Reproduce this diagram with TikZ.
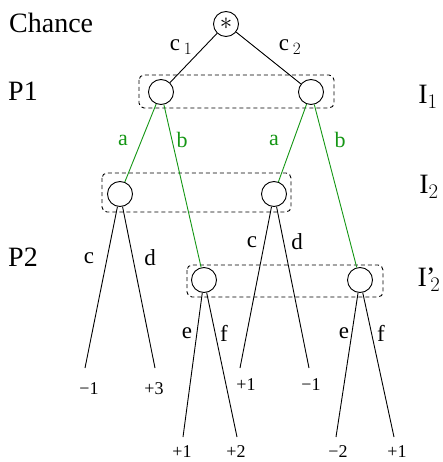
\documentclass[tikz,border=0pt]{standalone}
\usepackage{fontspec}
\setmainfont{Liberation Serif}
\definecolor{treegreen}{RGB}{20,150,20}
\begin{document}
\begin{tikzpicture}[x=1pt,y=-1pt,
  gnode/.style={draw,circle,minimum size=25pt,inner sep=0pt,line width=0.9pt},
  edge/.style={line width=0.9pt},
  gedge/.style={line width=0.9pt,draw=treegreen},
  infoset/.style={draw,dash pattern=on 4pt off 3pt,rounded corners=5pt,line width=0.9pt},
  big/.style={font=\fontsize{28}{32}\selectfont,inner sep=0pt},
  elab/.style={font=\fontsize{23}{26}\selectfont,inner sep=0pt},
  glab/.style={font=\fontsize{22}{26}\selectfont,inner sep=0pt,text=treegreen},
  val/.style={font=\fontsize{18}{22}\selectfont,inner sep=0pt}]
\useasboundingbox (0,0) rectangle (442,462);
% information sets
\draw[infoset] (139,75) rectangle (334,108);
\draw[infoset] (102,173) rectangle (291,212);
\draw[infoset] (187,265) rectangle (383,297);
% nodes
\node[gnode] (ch) at (226,24) {\fontsize{24}{24}\selectfont$\ast$};
\node[gnode] (p1l) at (161,92) {};
\node[gnode] (p1r) at (311,92) {};
\node[gnode] (i2l) at (120,194) {};
\node[gnode] (i2r) at (274,194) {};
\node[gnode] (i3l) at (204,280) {};
\node[gnode] (i3r) at (360,280) {};
% leaf coordinates
\coordinate (l1) at (85,368);
\coordinate (l2) at (155,368);
\coordinate (l3) at (240,368);
\coordinate (l4) at (309,368);
\coordinate (l5) at (183,437);
\coordinate (l6) at (237,437);
\coordinate (l7) at (336,437);
\coordinate (l8) at (394,437);
% edges
\draw[edge] (ch) -- (p1l);
\draw[edge] (ch) -- (p1r);
\draw[gedge] (p1l) -- (i2l);
\draw[gedge] (p1l) -- (i3l);
\draw[gedge] (p1r) -- (i2r);
\draw[gedge] (p1r) -- (i3r);
\draw[edge] (i2l) -- (l1);
\draw[edge] (i2l) -- (l2);
\draw[edge] (i2r) -- (l3);
\draw[edge] (i2r) -- (l4);
\draw[edge] (i3l) -- (l5);
\draw[edge] (i3l) -- (l6);
\draw[edge] (i3r) -- (l7);
\draw[edge] (i3r) -- (l8);
% row labels
\node[big,anchor=west] (tch) at (9,23) {Chance};
\node[big,anchor=west] (tp1) at (8,91) {P1};
\node[big,anchor=west] (tp2) at (8,257) {P2};
\node[big] (ti1) at (428,97) {I$_1$};
\node[big] (ti2) at (429,187) {I$_2$};
\node[big] (ti3) at (429,280) {I\kern-1pt’\kern-5pt$_2$};
% edge labels
\node[elab] (c1) at (181,47) {c\,$_1$};
\node[elab] (c2) at (290,47) {c\,$_2$};
\node[glab] (a1) at (123,140) {a};
\node[glab] (b1) at (182,140) {b};
\node[glab] (a2) at (274,140) {a};
\node[glab] (b2) at (340,140) {b};
\node[elab] (cl) at (89,258) {c};
\node[elab] (dl) at (150,258) {d};
\node[elab] (cr) at (252,242) {c};
\node[elab] (dr) at (297,242) {d};
\node[elab] (el) at (187,333) {e};
\node[elab] (fl) at (224,333) {f};
\node[elab] (er) at (344,333) {e};
\node[elab] (fr) at (381,333) {f};
% payoffs
\node[val] (v1) at (89,389) {−1};
\node[val] (v2) at (154,389) {+3};
\node[val] (v3) at (246,385) {+1};
\node[val] (v4) at (311,385) {−1};
\node[val] (v5) at (182,452) {+1};
\node[val] (v6) at (236,452) {+2};
\node[val] (v7) at (338,452) {−2};
\node[val] (v8) at (397,452) {+1};
\end{tikzpicture}
\end{document}
